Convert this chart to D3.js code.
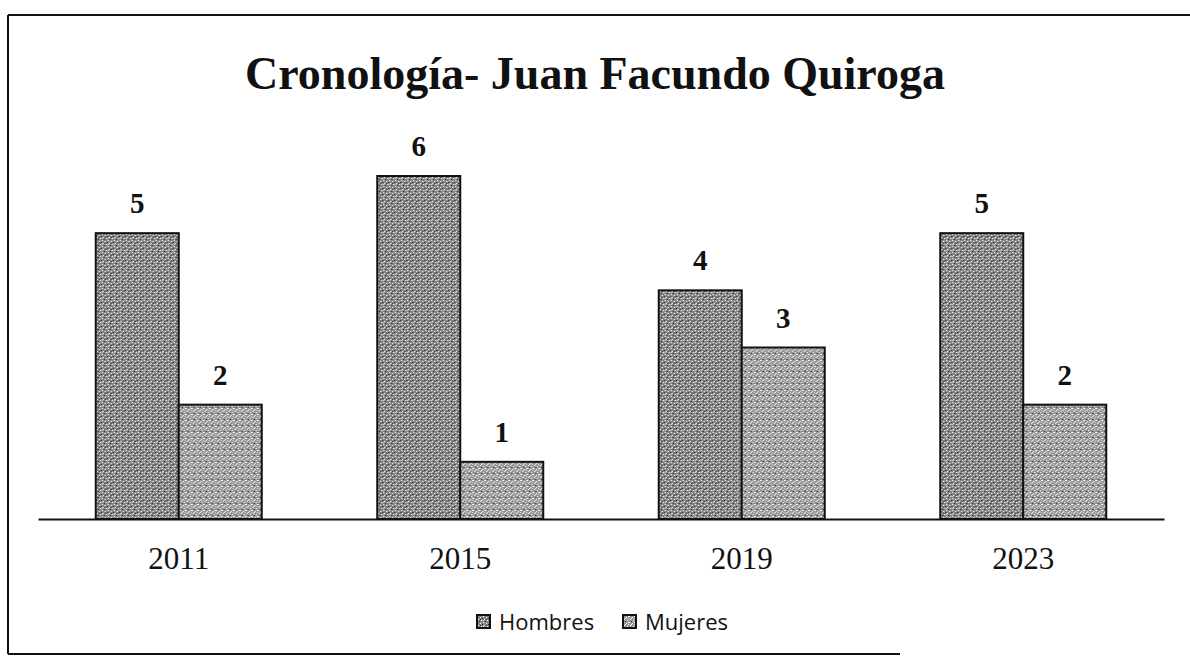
<!DOCTYPE html>
<html>
<head>
<meta charset="utf-8">
<script src="https://cdn.jsdelivr.net/npm/d3@7"></script>
<style>
  body { margin: 0; background: #fff; }
</style>
</head>
<body>
<svg id="chart" width="1190" height="656"></svg>
<script>
// chart values
const years = ["2011", "2015", "2019", "2023"];
const hombres = [5, 6, 4, 5];
const mujeres = [2, 1, 3, 2];
const seriesNames = ["Hombres", "Mujeres"];
const titleText = "Cronología- Juan Facundo Quiroga";

const width = 1190, height = 656;
const margin = { left: 38, right: 26, top: 120, bottom: 137 };

const svg = d3.select("#chart");

// stippled fills, like the scan
const defs = svg.append("defs");
function stipple(id, base, dots) {
  const p = defs.append("pattern")
    .attr("id", id)
    .attr("width", 6).attr("height", 6)
    .attr("patternUnits", "userSpaceOnUse");
  p.append("rect").attr("width", 6).attr("height", 6).attr("fill", base);
  dots.forEach(([x, y, c]) => p.append("rect")
    .attr("x", x).attr("y", y).attr("width", 1).attr("height", 1).attr("fill", c));
}
stipple("patH", "#858585", [[0,0,"#fff"],[3,1,"#fff"],[1,3,"#fff"],[4,4,"#fff"],[2,5,"#222"],[5,2,"#222"],[0,4,"#ddd"],[3,3,"#333"]]);
stipple("patM", "#959595", [[0,0,"#fff"],[3,1,"#fff"],[1,3,"#fff"],[4,4,"#fff"],[5,0,"#fff"],[2,5,"#333"],[5,2,"#ddd"],[2,2,"#fff"]]);
const fills = { Hombres: "url(#patH)", Mujeres: "url(#patM)" };

// frame (left, top, bottom as in the scan)
svg.append("line").attr("x1", 8).attr("x2", 8).attr("y1", 15).attr("y2", 654)
  .attr("stroke", "#111").attr("stroke-width", 2);
svg.append("line").attr("x1", 8).attr("x2", width).attr("y1", 15).attr("y2", 15)
  .attr("stroke", "#111").attr("stroke-width", 2);
svg.append("line").attr("x1", 8).attr("x2", 900).attr("y1", 654).attr("y2", 654)
  .attr("stroke", "#111").attr("stroke-width", 2);

// title
svg.append("text")
  .attr("x", 595).attr("y", 89)
  .attr("text-anchor", "middle")
  .attr("font-family", "Liberation Serif, Times New Roman, serif")
  .attr("font-weight", "bold")
  .attr("font-size", 46)
  .attr("fill", "#111")
  .text(titleText);

const data = years.map((y, i) => ({ year: y, Hombres: hombres[i], Mujeres: mujeres[i] }));

const x0 = d3.scaleBand()
  .domain(years)
  .range([margin.left, width - margin.right])
  .paddingInner(0)
  .paddingOuter(0);

const x1 = d3.scaleBand()
  .domain(seriesNames)
  .range([0, 166])
  .padding(0);

const y = d3.scaleLinear()
  .domain([0, 6])
  .range([height - margin.bottom, height - margin.bottom - 343]);

const g = svg.append("g");

const groups = g.selectAll("g.year")
  .data(data)
  .join("g")
  .attr("class", "year")
  .attr("transform", d => `translate(${x0(d.year) + (x0.bandwidth() - 166) / 2},0)`);

groups.selectAll("rect")
  .data(d => seriesNames.map(k => ({ key: k, value: d[k] })))
  .join("rect")
  .attr("x", d => x1(d.key))
  .attr("y", d => y(d.value))
  .attr("width", x1.bandwidth())
  .attr("height", d => y(0) - y(d.value))
  .attr("fill", d => fills[d.key])
  .attr("stroke", "#111")
  .attr("stroke-width", 2);

groups.selectAll("text.val")
  .data(d => seriesNames.map(k => ({ key: k, value: d[k] })))
  .join("text")
  .attr("class", "val")
  .attr("x", d => x1(d.key) + x1.bandwidth() / 2)
  .attr("y", d => y(d.value) - 20)
  .attr("text-anchor", "middle")
  .attr("font-family", "Liberation Serif, Times New Roman, serif")
  .attr("font-weight", "bold")
  .attr("font-size", 29)
  .attr("fill", "#111")
  .text(d => d.value);

// x axis
const xAxis = svg.append("g")
  .attr("transform", `translate(0,${y(0)})`)
  .call(d3.axisBottom(x0).tickSize(0).tickPadding(28));
xAxis.select(".domain").attr("stroke", "#111").attr("stroke-width", 2);
xAxis.selectAll("text")
  .attr("font-family", "Liberation Serif, Times New Roman, serif")
  .attr("font-size", 31)
  .attr("fill", "#111");

// legend
const legend = svg.append("g").attr("transform", "translate(477,622)");
const legendX = [0, 146];
seriesNames.forEach((name, i) => {
  const lg = legend.append("g").attr("transform", `translate(${legendX[i]},0)`);
  lg.append("rect")
    .attr("x", 0).attr("y", -7).attr("width", 13).attr("height", 13)
    .attr("fill", fills[name]).attr("stroke", "#111").attr("stroke-width", 2);
  lg.append("text")
    .attr("x", 22).attr("y", 0)
    .attr("dy", "0.35em")
    .attr("font-family", "Open Sans, Noto Sans, sans-serif")
    .attr("font-size", 22)
    .attr("fill", "#111")
    .text(name);
});
</script>
</body>
</html>
